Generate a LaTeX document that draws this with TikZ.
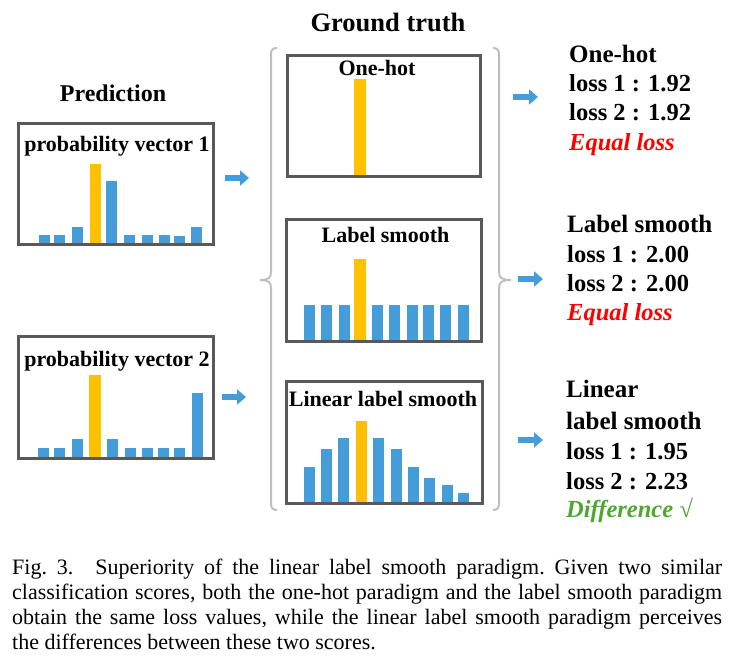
\documentclass[tikz,border=0pt]{standalone}
\usepackage{fontspec}
\setmainfont{Liberation Serif}
\usetikzlibrary{arrows.meta}
\definecolor{barblue}{RGB}{68,156,217}
\definecolor{barorange}{RGB}{255,192,0}
\definecolor{boxgray}{RGB}{89,89,89}
\definecolor{bracegray}{RGB}{191,191,191}
\definecolor{lossred}{RGB}{255,0,0}
\definecolor{diffgreen}{RGB}{78,167,46}
\begin{document}
\begin{tikzpicture}[x=1pt,y=-1pt,
  box/.style={draw=boxgray, line width=3pt, inner sep=0pt},
  boxtitle/.style={font=\fontsize{22}{26}\selectfont\bfseries, anchor=base, inner sep=0pt},
  head/.style={font=\fontsize{25}{30}\selectfont\bfseries, anchor=base, inner sep=0pt},
  rtext/.style={font=\fontsize{25}{30}\selectfont\bfseries, anchor=base west, inner sep=0pt},
  rloss/.style={font=\fontsize{24.5}{30}\selectfont\bfseries, anchor=base west, inner sep=0pt},
  barrow/.style={barblue, line width=6.5pt, -{Triangle[length=9pt,width=15pt]}},
  bracel/.style={draw=bracegray, line width=2pt},
  bluebar/.style={fill=barblue},
  orangebar/.style={fill=barorange}]
\useasboundingbox (0,0) rectangle (729,667);

% headings
\node[head] (gt) at (388,31) {\fontsize{26.5}{30}\selectfont Ground truth};
\node[head] (pred) at (113,101) {\fontsize{24}{30}\selectfont Prediction};

% bars: probability vector 1
\foreach \x/\t in {39.3/235,54.3/235,72.3/227,106/181,124.3/235,142/235,159/235,174.3/236,191/227}
  \fill[bluebar] (\x,244) rectangle (\x+10.7,\t);
\fill[orangebar] (90,244) rectangle (100.7,163.7);
% bars: probability vector 2
\foreach \x/\t in {38/448,54/448,72/439,107/439,125/448,142/448,158/448,174/448,192/393}
  \fill[bluebar] (\x,458) rectangle (\x+11,\t);
\fill[orangebar] (89,458) rectangle (100.5,375);
% bars: one-hot
\fill[orangebar] (354,176) rectangle (366,79);
% bars: label smooth
\foreach \x in {304,321,339,372,389,407,423,440,458}
  \fill[bluebar] (\x,341) rectangle (\x+11,305);
\fill[orangebar] (354,341) rectangle (366,259);
% bars: linear label smooth
\foreach \x/\t in {304/467,321/449,338/438,373/438,391/449,408/467,424/478,442/485,458/493}
  \fill[bluebar] (\x,503) rectangle (\x+11,\t);
\fill[orangebar] (356,503) rectangle (367,421);

% boxes
\node[box, minimum width=195pt, minimum height=121pt] (pv1) at (115.5,183.5) {};
\node[box, minimum width=195pt, minimum height=122pt] (pv2) at (115.5,397) {};
\node[box, minimum width=193pt, minimum height=121pt] (oh) at (383.5,115.5) {};
\node[box, minimum width=195pt, minimum height=122pt] (ls) at (383.5,280) {};
\node[box, minimum width=196pt, minimum height=122pt] (lls) at (384,442) {};

% box titles
\node[boxtitle] (pv1t) at (117,151) {probability vector 1};
\node[boxtitle] (pv2t) at (117,366) {probability vector 2};
\node[boxtitle] (oht) at (377,75) {One-hot};
\node[boxtitle] (lst) at (385.5,242.5) {Label smooth};
\node[boxtitle] (llst) at (383,406) {Linear label smooth};

% braces
\draw[bracel] (277,48) .. controls (273,48) and (271,50) .. (271,54) -- (271,272)
  .. controls (271,278) and (268,280) .. (260,280);
\draw[bracel] (260,280) .. controls (268,280) and (271,282) .. (271,288) -- (271,504)
  .. controls (271,508) and (273,510) .. (277,510);
\draw[bracel] (493,48) .. controls (497,48) and (499,50) .. (499,54) -- (499,272)
  .. controls (499,278) and (502,280) .. (511,280);
\draw[bracel] (511,280) .. controls (502,280) and (499,282) .. (499,288) -- (499,504)
  .. controls (499,508) and (497,510) .. (493,510);

% arrows
\coordinate (a1s) at (225,178); \coordinate (a1e) at (249,178);
\coordinate (a2s) at (222,397); \coordinate (a2e) at (246,397);
\coordinate (a3s) at (513,97);  \coordinate (a3e) at (538,97);
\coordinate (a4s) at (518,279); \coordinate (a4e) at (543,279);
\coordinate (a5s) at (518,440); \coordinate (a5e) at (543,440);
\draw[barrow] (a1s) -- (a1e);
\draw[barrow] (a2s) -- (a2e);
\draw[barrow] (a3s) -- (a3e);
\draw[barrow] (a4s) -- (a4e);
\draw[barrow] (a5s) -- (a5e);

% right texts: one-hot
\node[rtext] (r1a) at (569,62) {One-hot};
\node[rloss] (r1b) at (569,91.5) {loss 1 : 1.92};
\node[rloss] (r1c) at (569,120.5) {loss 2 : 1.92};
\node[rloss, text=lossred] (r1d) at (569,150) {\itshape Equal loss};
% label smooth
\node[rtext] (r2a) at (567,232.5) {Label smooth};
\node[rloss] (r2b) at (567,262.5) {loss 1 : 2.00};
\node[rloss] (r2c) at (567,291) {loss 2 : 2.00};
\node[rloss, text=lossred] (r2d) at (567,320.5) {\itshape Equal loss};
% linear label smooth
\node[rtext] (r3a) at (566,397.5) {Linear};
\node[rtext] (r3b) at (566,429) {label smooth};
\node[rloss] (r3c) at (566,459) {loss 1 : 1.95};
\node[rloss] (r3d) at (566,489) {loss 2 : 2.23};
\node[rloss, text=diffgreen] (r3e) at (566,517.5) {\itshape Difference √};

% caption
\node[anchor=north west, inner sep=0pt, text width=710pt, align=justify,
  font=\fontsize{22}{25}\selectfont] (cap) at (12,559)
  {\noindent\frenchspacing Fig. 3.\quad Superiority of the linear label smooth paradigm. Given two similar\linebreak
   classification scores, both the one-hot paradigm and the label smooth paradigm\linebreak
   obtain the same loss values, while the linear label smooth paradigm perceives\linebreak
   the differences between these two scores.};
\end{tikzpicture}
\end{document}
